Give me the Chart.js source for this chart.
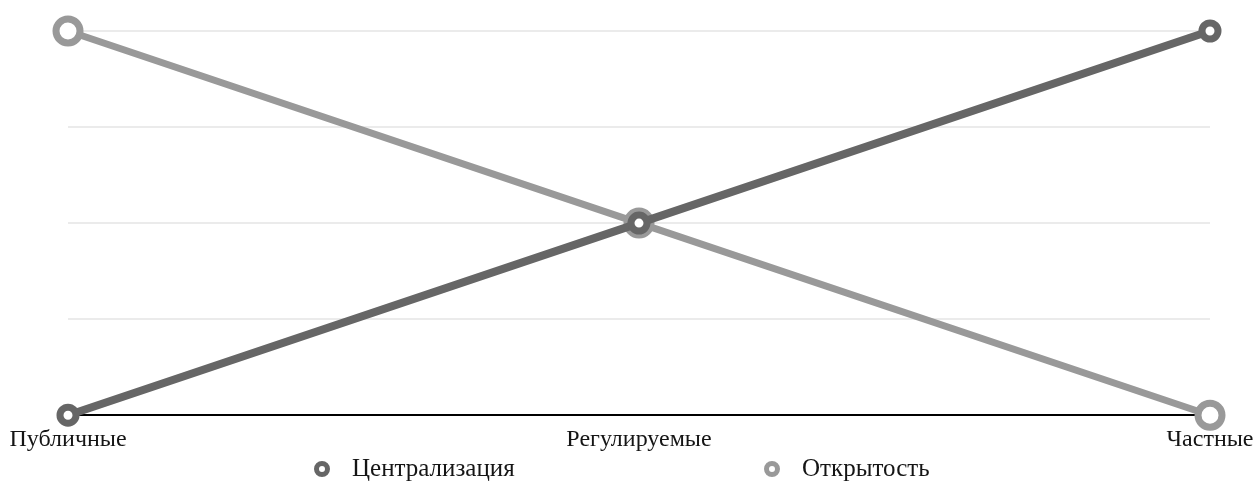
<!DOCTYPE html>
<html>
<head>
<meta charset="utf-8">
<script src="https://cdn.jsdelivr.net/npm/chart.js@4/dist/chart.umd.min.js"></script>
<style>
  html, body { margin: 0; padding: 0; background: #fff; }
  #wrap { width: 1255px; height: 484px; position: relative; }
  #legend { position: absolute; left: 0; top: 453px; width: 1255px; height: 30px;
    font-family: "Liberation Serif", "DejaVu Serif", serif; font-size: 25px; color: #151515; }
  .item { position: absolute; top: 0; line-height: 30px; white-space: nowrap; }
  .dot { position: absolute; top: 8px; width: 6px; height: 6px; border-radius: 50%;
    background: #fff; border-style: solid; border-width: 5px; }
</style>
</head>
<body>
<div id="wrap"><canvas id="c"></canvas><div id="legend"></div></div>
<script>
const categories = ['Публичные', 'Регулируемые', 'Частные'];
const centralization = [0, 2, 4];
const openness = [4, 2, 0];
const seriesNames = ['Централизация', 'Открытость'];
const seriesColors = ['#666666', '#999999'];

const serif = '"Liberation Serif", "DejaVu Serif", serif';

const chart = new Chart(document.getElementById('c'), {
  type: 'line',
  data: {
    labels: categories,
    datasets: [
      {
        label: seriesNames[0],
        data: centralization,
        borderColor: seriesColors[0],
        backgroundColor: '#ffffff',
        borderWidth: 8,
        pointRadius: 8,
        pointBorderWidth: 7,
        pointBorderColor: seriesColors[0],
        pointBackgroundColor: '#ffffff',
        clip: false,
        order: 1
      },
      {
        label: seriesNames[1],
        data: openness,
        borderColor: seriesColors[1],
        backgroundColor: '#ffffff',
        borderWidth: 7,
        pointRadius: 12,
        pointBorderWidth: 7,
        pointBorderColor: seriesColors[1],
        pointBackgroundColor: '#ffffff',
        clip: false,
        order: 2
      }
    ]
  },
  options: {
    responsive: true,
    maintainAspectRatio: false,
    animation: false,
    layout: { padding: { left: 68, right: 45, top: 31, bottom: 20 } },
    scales: {
      x: {
        offset: false,
        grid: { display: false, drawTicks: false },
        border: { display: true, color: '#000000', width: 2 },
        ticks: {
          color: '#151515',
          padding: 10,
          maxRotation: 0,
          font: { family: serif, size: 24 }
        },
        // let the end labels hang past the plot edges
        afterFit: (scale) => { scale.paddingLeft = 0; scale.paddingRight = 0; }
      },
      y: {
        min: 0,
        max: 4,
        ticks: { display: false, stepSize: 1 },
        grid: { color: '#ebebeb', lineWidth: 2, drawTicks: false },
        border: { display: false }
      }
    },
    plugins: {
      legend: { display: false },
      tooltip: { enabled: false }
    }
  }
});

// Legend below the axis, one entry per dataset
const legendPositions = [314, 764];
const legend = document.getElementById('legend');
chart.data.datasets.forEach((ds, i) => {
  const item = document.createElement('div');
  item.className = 'item';
  item.style.left = legendPositions[i] + 'px';
  const dot = document.createElement('span');
  dot.className = 'dot';
  dot.style.borderColor = ds.borderColor;
  const text = document.createElement('span');
  text.style.marginLeft = '38px';
  text.textContent = ds.label;
  item.appendChild(dot);
  item.appendChild(text);
  legend.appendChild(item);
});
</script>
</body>
</html>
